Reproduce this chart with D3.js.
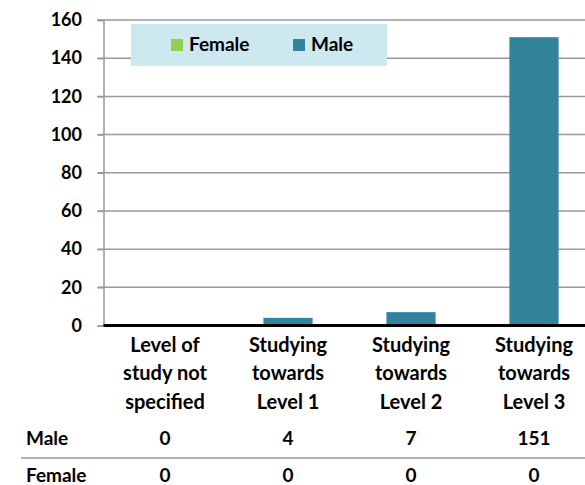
<!DOCTYPE html>
<html><head><meta charset="utf-8">
<script src="https://cdn.jsdelivr.net/npm/d3@7"></script>
<style>body{margin:0;background:#fff}svg{display:block}text{font-family:Lato,"Open Sans",sans-serif;font-weight:bold;fill:#000}</style>
</head><body><svg id="c" width="585" height="485"></svg>
<script>
const categories = [["Level of","study not","specified"],["Studying","towards","Level 1"],["Studying","towards","Level 2"],["Studying","towards","Level 3"]];
const seriesNames = ["Female","Male"];
const female = [0,0,0,0];
const male = [0,4,7,151];
const yTicks = [0,20,40,60,80,100,120,140,160];
const colors = {Female:"#92d050", Male:"#31849b"};

(function(){
const svg = d3.select("#c");
const pl = 103.5, pr = 595.5, pt = 20, pb = 325.5;
const x = d3.scaleBand().domain(d3.range(categories.length)).range([pl,pr]).paddingInner(0).paddingOuter(0);
const y = d3.scaleLinear().domain([0,160]).range([pb,pt]);

// gridlines
svg.append("g").selectAll("line").data(yTicks.filter(d=>d>0)).join("line")
  .attr("x1",pl-6).attr("x2",585).attr("y1",d=>y(d)).attr("y2",d=>y(d))
  .attr("stroke","#999").attr("stroke-width",1.5);
// y axis
const ya = svg.append("g").attr("transform",`translate(${pl},0)`)
  .call(d3.axisLeft(y).tickValues(yTicks).tickSize(6).tickPadding(15.5));
ya.select(".domain").attr("stroke","#999").attr("stroke-width",1.5);
ya.selectAll(".tick line").attr("stroke","#999").attr("stroke-width",1.5);
ya.selectAll(".tick text").attr("font-size",18).attr("font-family","Lato").attr("font-weight","bold").attr("fill","#000");

// bars
const bw = x.bandwidth()*0.4;
svg.append("g").selectAll("rect").data(male).join("rect")
  .attr("x",(d,i)=>x(i)+x.bandwidth()/2-bw/2).attr("width",bw)
  .attr("y",d=>y(d)).attr("height",d=>pb-y(d)).attr("fill",colors.Male);

// zero axis line
svg.append("line").attr("x1",pl).attr("x2",585).attr("y1",pb).attr("y2",pb)
  .attr("stroke","#000").attr("stroke-width",3);

// legend
const lg = svg.append("g");
lg.append("rect").attr("x",131).attr("y",24).attr("width",256).attr("height",42).attr("fill","#cde8ef");
const legX = [171,293];
seriesNames.forEach((s,i)=>{
  lg.append("rect").attr("x",legX[i]).attr("y",39).attr("width",12).attr("height",12).attr("fill",colors[s]);
  lg.append("text").attr("x",legX[i]+18).attr("y",51).attr("font-size",19).text(s);
});

// category labels
const cg = svg.append("g");
categories.forEach((lines,i)=>{
  lines.forEach((t,j)=>{
    cg.append("text").attr("x",x(i)+x.bandwidth()/2).attr("y",351.5+j*28.5)
      .attr("text-anchor","middle").attr("font-size",20).text(t);
  });
});

// data table
const rows = [["Male",male],["Female",female]];
const rowY = [445,482];
rows.forEach((r,k)=>{
  svg.append("text").attr("x",26).attr("y",rowY[k]).attr("font-size",19).text(r[0]);
  r[1].forEach((v,i)=>{
    svg.append("text").attr("x",x(i)+x.bandwidth()/2).attr("y",rowY[k]).attr("text-anchor","middle").attr("font-size",19).text(v);
  });
});
svg.append("line").attr("x1",21).attr("x2",585).attr("y1",458).attr("y2",458).attr("stroke","#999").attr("stroke-width",1.5);
})();
</script></body></html>
